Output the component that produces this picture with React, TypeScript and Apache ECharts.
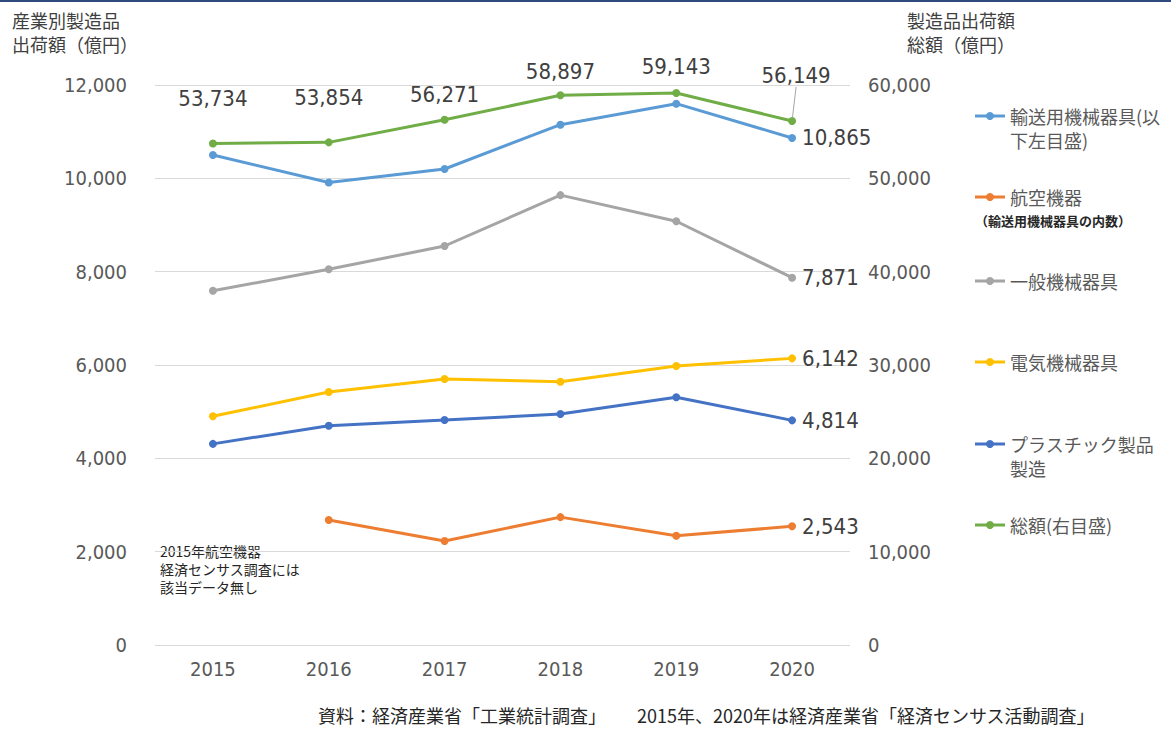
import React, { useEffect, useRef } from "react";
import * as echarts from "echarts";

const years = ["2015", "2016", "2017", "2018", "2019", "2020"];
const transport = [10500, 9910, 10200, 11150, 11600, 10865];
const aircraft: (number | null)[] = [null, 2680, 2230, 2740, 2340, 2543];
const general = [7590, 8050, 8550, 9640, 9080, 7871];
const electrical = [4900, 5420, 5700, 5640, 5980, 6142];
const plastic = [4310, 4700, 4820, 4950, 5310, 4814];
const total = [53734, 53854, 56271, 58897, 59143, 56149];

const legendNames = [
  "輸送用機械器具(以\n下左目盛)",
  "航空機器",
  "一般機械器具",
  "電気機械器具",
  "プラスチック製品\n製造",
  "総額(右目盛)",
];
const colors = ["#5B9BD5", "#ED7D31", "#A5A5A5", "#FFC000", "#4472C4", "#70AD47"];
const legendY = [116, 197, 281, 362, 444, 525];
const totalLabelDist = [30, 30, 10, 9, 11, 8];

const NUM_FONT = "'DejaVu Sans Condensed', 'Liberation Sans Narrow', 'Roboto Condensed', 'Noto Sans CJK JP', sans-serif";
const JP_FONT = "'Noto Sans CJK JP', 'Noto Sans', sans-serif";

const fmt = (v: number) => v.toLocaleString("en-US");

export default function App() {
  const ref = useRef<HTMLDivElement>(null);
  useEffect(() => {
    if (!ref.current) return;
    const chart = echarts.init(ref.current, null, { renderer: "svg" });

    const lastLabel = (arr: (number | null)[]) =>
      arr.map((v, i) =>
        i === arr.length - 1
          ? {
              value: v,
              label: {
                show: true,
                position: "right",
                distance: 6,
                formatter: (p: any) => fmt(p.value),
                fontFamily: NUM_FONT,
                fontSize: 22,
                color: "#404040",
              },
            }
          : v
      );

    const mkSeries = (name: string, data: any[], color: string, yAxisIndex = 0) => ({
      name,
      type: "line",
      data,
      yAxisIndex,
      symbol: "circle",
      symbolSize: 8,
      showSymbol: true,
      connectNulls: false,
      lineStyle: { width: 3, color },
      itemStyle: { color },
      z: 3,
    });

    const totalData = total.map((v, i) => ({
      value: v,
      label: {
        show: true,
        position: "top",
        distance: totalLabelDist[i],
        formatter: (p: any) => fmt(p.value),
        fontFamily: NUM_FONT,
        fontSize: 22,
        color: "#404040",
      },
      labelLine:
        i === total.length - 1
          ? { show: true, lineStyle: { color: "#A6A6A6", width: 1 } }
          : { show: false },
    }));

    const totalSeries: any = mkSeries(legendNames[5], totalData, colors[5], 1);
    totalSeries.labelLayout = (p: any) =>
      p.dataIndex === total.length - 1 ? { dx: 4, dy: -22 } : {};
    totalSeries.labelLine = { show: false, lineStyle: { color: "#A6A6A6", width: 1 } };

    const legendGraphics: any[] = [];
    legendNames.forEach((n, i) => {
      const y = legendY[i];
      legendGraphics.push({
        type: "line",
        shape: { x1: 975, y1: y, x2: 1005, y2: y },
        style: { stroke: colors[i], lineWidth: 3 },
      });
      legendGraphics.push({
        type: "circle",
        shape: { cx: 990, cy: y, r: 4 },
        style: { fill: colors[i] },
      });
      n.split("\n").forEach((line, j) => {
        legendGraphics.push({
          type: "text",
          x: 1010,
          y: y + j * 24,
          style: {
            text: line,
            fontFamily: JP_FONT,
            fontSize: 18,
            fill: "#595959",
            verticalAlign: "middle",
          },
        });
      });
    });

    const titleText = (x: number, y: number, text: string) => ({
      type: "text",
      x,
      y,
      style: {
        text,
        fontFamily: JP_FONT,
        fontSize: 18,
        fill: "#404040",
        verticalAlign: "middle",
      },
    });

    const option: any = {
      animation: false,
      backgroundColor: "#ffffff",
      grid: { left: 155, right: 321, top: 85, bottom: 86, containLabel: false },
      xAxis: {
        type: "category",
        data: years,
        boundaryGap: true,
        axisLine: { show: false },
        axisTick: { show: false },
        axisLabel: { fontFamily: NUM_FONT, fontSize: 20, color: "#595959", margin: 14 },
      },
      yAxis: [
        {
          type: "value",
          min: 0,
          max: 12000,
          interval: 2000,
          axisLine: { show: false },
          axisTick: { show: false },
          splitLine: { lineStyle: { color: "#D9D9D9", width: 1 } },
          axisLabel: {
            fontFamily: NUM_FONT,
            fontSize: 20,
            color: "#595959",
            margin: 28,
            formatter: (v: number) => fmt(v),
          },
        },
        {
          type: "value",
          min: 0,
          max: 60000,
          interval: 10000,
          position: "right",
          axisLine: { show: false },
          axisTick: { show: false },
          splitLine: { show: false },
          axisLabel: {
            fontFamily: NUM_FONT,
            fontSize: 20,
            color: "#595959",
            margin: 18,
            formatter: (v: number) => fmt(v),
          },
        },
      ],
      series: [
        totalSeries,
        mkSeries(legendNames[0], lastLabel(transport), colors[0]),
        mkSeries(legendNames[1], lastLabel(aircraft), colors[1]),
        mkSeries(legendNames[2], lastLabel(general), colors[2]),
        mkSeries(legendNames[3], lastLabel(electrical), colors[3]),
        mkSeries(legendNames[4], lastLabel(plastic), colors[4]),
      ],
      graphic: [
        {
          type: "rect",
          shape: { x: 0, y: 0, width: 1171, height: 2 },
          style: { fill: "#2F4A7E" },
        },
        titleText(12, 20, "産業別製造品"),
        titleText(12, 44, "出荷額（億円）"),
        titleText(907, 20, "製造品出荷額"),
        titleText(907, 44, "総額（億円）"),
        {
          type: "text",
          x: 975,
          y: 220,
          style: {
            text: "（輸送用機械器具の内数）",
            fontFamily: JP_FONT,
            fontSize: 13,
            fontWeight: "bold",
            fill: "#262626",
            verticalAlign: "middle",
          },
        },
        ...["2015年航空機器", "経済センサス調査には", "該当データ無し"].map((t, j) => ({
          type: "text",
          x: 160,
          y: 551 + j * 18,
          style: {
            text: t,
            fontFamily: JP_FONT,
            fontSize: 14,
            fill: "#262626",
            verticalAlign: "middle",
          },
        })),
        {
          type: "text",
          x: 318,
          y: 715,
          style: {
            text: "資料：経済産業省「工業統計調査」　　 2015年、2020年は経済産業省「経済センサス活動調査」",
            fontFamily: JP_FONT,
            fontSize: 18,
            fill: "#262626",
            verticalAlign: "middle",
          },
        },
        ...legendGraphics,
      ],
    };
    chart.setOption(option);
    return () => chart.dispose();
  }, []);
  return (
    <div
      ref={ref}
      style={{ position: "fixed", left: 0, top: 0, width: 1171, height: 731, background: "#fff" }}
    />
  );
}
